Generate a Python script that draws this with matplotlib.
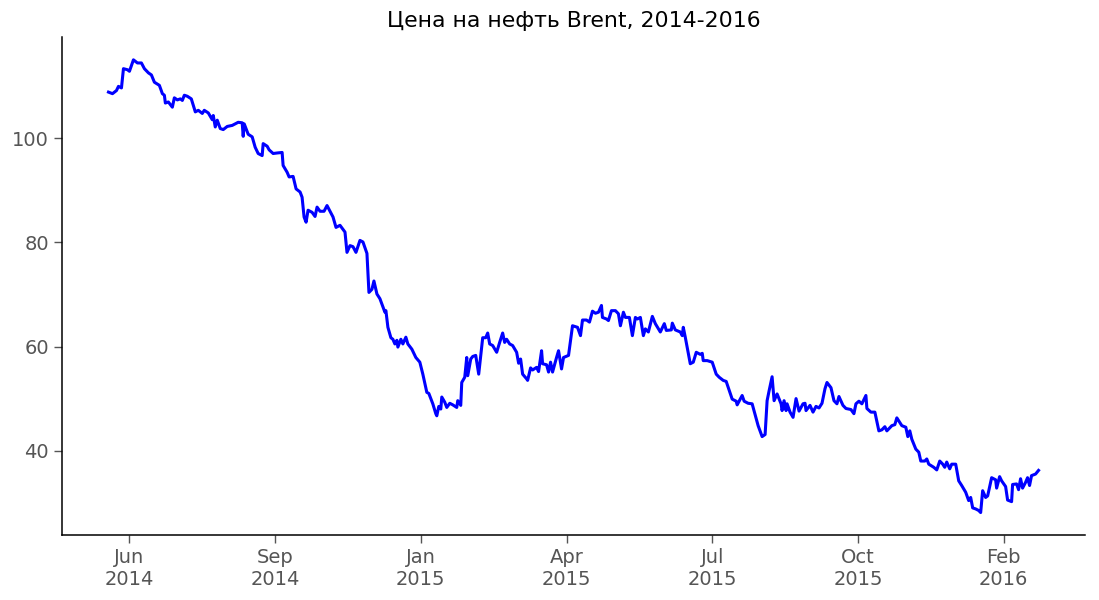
import matplotlib
matplotlib.use('Agg')
import matplotlib.pyplot as plt

# Brent, торговые сессии (номер сессии от начала ряда) и цена, $/барр.
session = [
    0, 4, 8, 10, 13, 15, 19, 21, 25, 29, 33, 36, 40, 43, 46, 51, 54, 56, 57, 60,
    64, 66, 69, 72, 74, 76, 79, 83, 87, 90, 94, 96, 100, 104, 105, 107, 109, 112, 115, 119,
    124, 130, 134, 135, 136, 140, 144, 147, 150, 154, 155, 159, 161, 165, 169, 174, 175, 179, 181, 185,
    188, 192, 194, 196, 198, 200, 204, 207, 209, 212, 216, 219, 222, 225, 228, 232, 237, 239, 242, 245,
    248, 252, 255, 259, 261, 264, 266, 269, 272, 277, 278, 280, 283, 285, 287, 289, 290, 293, 295, 298,
    300, 304, 308, 312, 315, 319, 321, 325, 328, 329, 331, 333, 334, 337, 339, 342, 345, 349, 350, 353,
    354, 357, 359, 360, 363, 365, 368, 371, 375, 378, 380, 382, 385, 389, 392, 395, 397, 399, 402, 405,
    409, 411, 413, 415, 419, 420, 423, 425, 429, 431, 434, 435, 439, 441, 443, 445, 449, 451, 454, 456,
    461, 465, 470, 473, 475, 479, 482, 485, 488, 491, 494, 495, 499, 501, 504, 508, 511, 513, 516, 518,
    522, 525, 528, 530, 533, 536, 538, 541, 545, 548, 553, 557, 559, 564, 565, 568, 573, 575, 576, 578,
    583, 586, 589, 593, 595, 596, 600, 605, 609, 612, 616, 619, 625, 629, 630, 635, 637, 641, 645, 648,
    651, 655, 658, 660, 662, 665, 667, 670, 674, 675, 677, 679, 680, 683, 686, 689, 692, 696, 698, 699,
    703, 706, 709, 712, 715, 718, 720, 724, 727, 730, 732, 736, 739, 744, 747, 749, 752, 755, 759, 760,
    764, 768, 772, 775, 778, 780, 785, 788, 790, 795, 799, 801, 803, 805, 809, 812, 814, 818, 820, 822,
    827, 830, 833, 836, 838, 840, 843, 845, 849, 852, 855, 859, 862, 864, 866, 869, 872, 874, 876, 879,
    881, 885, 889, 890, 893, 895, 899, 901, 905, 906, 910, 912, 914, 916, 919, 921, 923, 925, 929, 932,
]
price = [
    108.9, 108.6, 109.2, 110.0, 109.7, 113.4, 113.2, 112.9, 115.1, 114.5, 114.5, 113.4, 112.6, 112.2, 110.8, 110.2, 108.6, 108.3, 106.8, 107.0,
    106.0, 107.8, 107.4, 107.6, 107.3, 108.3, 108.1, 107.6, 105.1, 105.4, 104.8, 105.4, 104.9, 103.6, 104.4, 102.2, 103.5, 101.9, 101.7, 102.3,
    102.5, 103.1, 103.0, 100.4, 102.8, 100.8, 100.3, 98.3, 97.1, 96.7, 99.0, 98.5, 97.8, 97.1, 97.2, 97.3, 94.8, 93.5, 92.6, 92.7,
    90.3, 89.7, 88.7, 84.9, 83.9, 86.2, 85.8, 85.0, 86.8, 86.0, 86.0, 87.1, 86.0, 84.9, 82.9, 83.3, 82.0, 78.1, 79.4, 79.2,
    78.1, 80.4, 80.1, 77.9, 70.4, 71.0, 72.6, 70.1, 69.2, 66.6, 66.9, 63.7, 61.7, 61.4, 60.5, 61.2, 59.9, 61.4, 60.5, 61.8,
    60.5, 59.5, 57.9, 57.0, 54.7, 51.2, 51.0, 49.0, 47.1, 46.7, 48.5, 48.0, 50.3, 49.3, 48.3, 49.1, 48.8, 48.3, 49.6, 48.7,
    53.1, 54.1, 57.9, 54.4, 57.6, 58.1, 58.3, 54.7, 61.7, 61.7, 62.6, 60.5, 60.2, 58.9, 60.8, 62.6, 60.8, 61.4, 60.5, 60.2,
    58.9, 56.8, 57.6, 54.7, 53.8, 53.5, 55.9, 55.5, 56.0, 55.2, 59.2, 56.7, 56.5, 55.1, 57.0, 55.1, 57.9, 59.2, 55.7, 57.9,
    58.3, 64.0, 63.7, 62.1, 65.1, 65.1, 64.7, 66.8, 66.4, 66.6, 67.9, 65.6, 65.3, 65.0, 66.9, 66.9, 66.3, 64.0, 66.6, 65.6,
    65.6, 62.1, 65.6, 65.3, 65.6, 62.1, 63.4, 62.8, 65.8, 64.4, 62.8, 64.4, 63.1, 63.2, 64.5, 63.2, 62.8, 62.1, 63.7, 61.8,
    56.7, 57.0, 58.9, 58.5, 58.7, 57.3, 57.3, 57.0, 54.7, 54.1, 53.5, 53.3, 49.9, 49.5, 48.8, 50.6, 49.5, 49.1, 49.0, 46.9,
    44.8, 42.7, 43.1, 49.6, 51.5, 54.2, 49.6, 50.9, 49.0, 47.7, 49.6, 47.7, 49.0, 47.4, 46.4, 50.0, 47.6, 49.0, 49.1, 47.7,
    48.7, 47.4, 48.5, 48.2, 49.1, 51.9, 53.1, 52.1, 49.6, 49.0, 50.4, 48.7, 48.1, 47.9, 47.1, 49.0, 49.5, 49.0, 50.6, 48.1,
    47.4, 47.4, 43.8, 44.0, 44.6, 43.8, 44.8, 45.0, 46.3, 44.8, 44.5, 42.7, 43.8, 42.2, 40.3, 39.7, 38.0, 38.0, 38.4, 37.4,
    36.8, 36.3, 38.0, 37.4, 36.8, 37.8, 36.5, 37.4, 37.4, 34.2, 33.3, 32.0, 30.4, 31.0, 29.0, 28.8, 28.5, 28.1, 32.3, 31.0,
    31.3, 34.8, 34.4, 32.8, 35.0, 34.2, 33.1, 30.5, 30.2, 33.5, 33.6, 32.5, 34.6, 32.8, 33.9, 34.8, 33.3, 35.2, 35.5, 36.2,
]

# подписи оси X (номер сессии -> метка)
tick_sessions = [21, 167, 313, 459, 605, 751, 897]
tick_labels = ['Jun\n2014', 'Sep\n2014', 'Jan\n2015', 'Apr\n2015',
               'Jul\n2015', 'Oct\n2015', 'Feb\n2016']

plt.rcParams['font.family'] = ['DejaVu Sans']
plt.rcParams['font.size'] = 14

fig, ax = plt.subplots(figsize=(10.99, 6.0), dpi=100)
fig.subplots_adjust(left=0.0564, right=0.9873, top=0.938, bottom=0.108)

ax.plot(session, price, color='#0000ff', linewidth=2.2)

ax.set_title('Цена на нефть Brent, 2014-2016', fontsize=15.8, color='black', pad=7)
ax.set_xticks(tick_sessions)
ax.set_xticklabels(tick_labels)
ax.set_yticks([40, 60, 80, 100])

ax.spines['top'].set_visible(False)
ax.spines['right'].set_visible(False)
for s in ['left', 'bottom']:
    ax.spines[s].set_color('black')
    ax.spines[s].set_linewidth(1.1)
ax.tick_params(axis='both', colors='#555555', labelsize=14, length=6, width=1, direction='out')
ax.grid(False)

plt.savefig('out.png', dpi=100)
